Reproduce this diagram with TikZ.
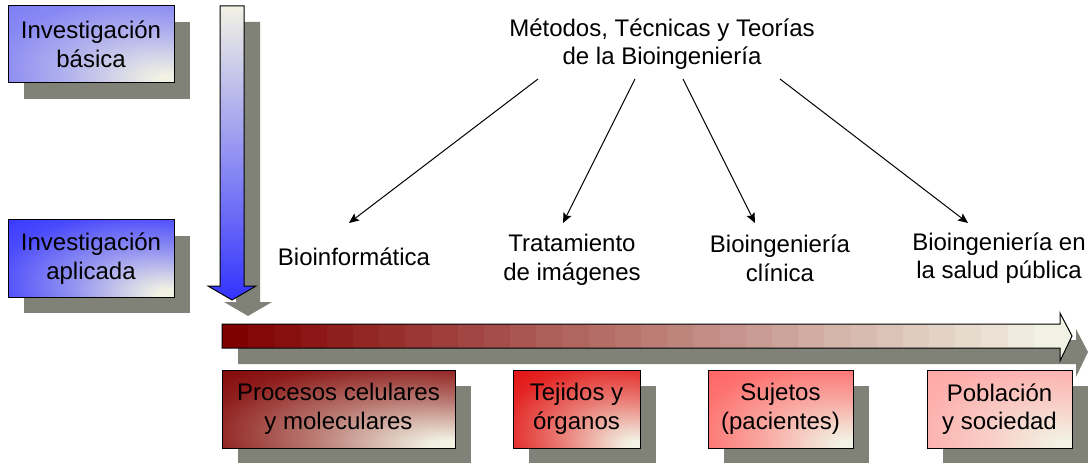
\documentclass[tikz,border=0pt]{standalone}
\usepackage{fontspec}
\setmainfont{Liberation Sans}
\usetikzlibrary{arrows.meta}
\definecolor{cream}{RGB}{242,242,228}
\definecolor{shadowc}{RGB}{128,130,120}
\definecolor{blueA}{RGB}{122,122,246}
\definecolor{blueB}{RGB}{51,51,255}
\definecolor{redA}{RGB}{128,0,0}
\definecolor{redB}{RGB}{225,10,10}
\definecolor{redC}{RGB}{255,96,96}
\definecolor{redD}{RGB}{255,165,165}
\colorlet{basec}{redA}
\pgfdeclareradialshading[basec]{cornerrad}{\pgfpoint{25bp}{-25bp}}{color(0bp)=(cream); color(4bp)=(cream); color(24bp)=(basec!50!cream); color(42bp)=(basec!88!cream); color(55bp)=(basec); color(90bp)=(basec)}
\newcommand{\myfont}{\fontsize{18pt}{21.5pt}\selectfont}
\tikzset{
  setbase/.code={\colorlet{basec}{#1}},
  box/.style={setbase=#1, draw=black, line width=0.75pt, shading=cornerrad,
    inner sep=0pt, outer sep=0pt, align=center, font=\myfont,
    preaction={fill=shadowc, transform canvas={shift={(16,16)}}}},
  lbl/.style={align=center, font=\myfont, inner sep=0pt},
  conn/.style={-{Stealth[length=7.5pt,width=6.5pt,inset=1.5pt]}, line width=0.75pt},
  outl/.style={draw=black, line width=0.75pt},
}
\begin{document}
\begin{tikzpicture}[x=0.75pt,y=-0.75pt]
\useasboundingbox (0,0) rectangle (1091,463);

% vertical arrow
\fill[shadowc, shift={(16,16)}] (220,6) -- (244,6) -- (244,286) -- (256,286) -- (232,300) -- (208,286) -- (220,286) -- cycle;
\shade[top color=cream, bottom color=blueB, outl] (220,6) -- (244,6) -- (244,286) -- (256,286) -- (232,300) -- (208,286) -- (220,286) -- cycle;

% horizontal arrow
\fill[shadowc, shift={(16,16)}] (222,324) -- (1060,324) -- (1060,313) -- (1072,336) -- (1060,361) -- (1060,348) -- (222,348) -- cycle;
\foreach \i in {0,...,31}{
  \pgfmathsetmacro{\p}{\i*100/31}
  \fill[cream!\p!redA] ({222+\i*26.1875},324) rectangle ({222+(\i+1)*26.1875+0.6},348);
}
\fill[cream] (1060,313) -- (1072,336) -- (1060,361) -- cycle;
\draw[outl] (222,324) -- (1060,324) -- (1060,313) -- (1072,336) -- (1060,361) -- (1060,348) -- (222,348) -- cycle;

% left boxes
\node[box=blueA, minimum width=124.5pt, minimum height=57.75pt] (ib) at (91,44.5) {Investigación\\básica};
\node[box=blueB, minimum width=124.5pt, minimum height=57.75pt] (ia) at (91,258.5) {Investigación\\aplicada};

% bottom boxes
\node[box=redA, minimum width=174.75pt, minimum height=58.5pt] (p1) at (338.5,409) {Procesos celulares\\y moleculares};
\node[box=redB, minimum width=95.25pt, minimum height=58.5pt] (p2) at (576.5,409) {Tejidos y\\órganos};
\node[box=redC, minimum width=108.75pt, minimum height=58.5pt] (p3) at (780.5,409) {Sujetos\\(pacientes)};
\node[box=redD, minimum width=108.75pt, minimum height=58.5pt] (p4) at (999.5,409) {Población\\y sociedad};

% title and labels
\node[lbl] (title) at (662,44) {Métodos, Técnicas y Teorías\\de la Bioingeniería};
\node[lbl] (l1) at (354,256.5) {Bioinformática};
\node[lbl] (l2) at (572,260) {Tratamiento\\de imágenes};
\node[lbl] (l3) at (780,258) {Bioingeniería\\clínica};
\node[lbl] (l4) at (999,258) {Bioingeniería en\\la salud pública};

\coordinate (s1) at (538,79); \coordinate (e1) at (349,223);
\coordinate (s2) at (635,79); \coordinate (e2) at (563,223);
\coordinate (s3) at (683,79); \coordinate (e3) at (755,223);
\coordinate (s4) at (780,79); \coordinate (e4) at (968,223);
\draw[conn] (s1) -- (e1);
\draw[conn] (s2) -- (e2);
\draw[conn] (s3) -- (e3);
\draw[conn] (s4) -- (e4);
\end{tikzpicture}
\end{document}
